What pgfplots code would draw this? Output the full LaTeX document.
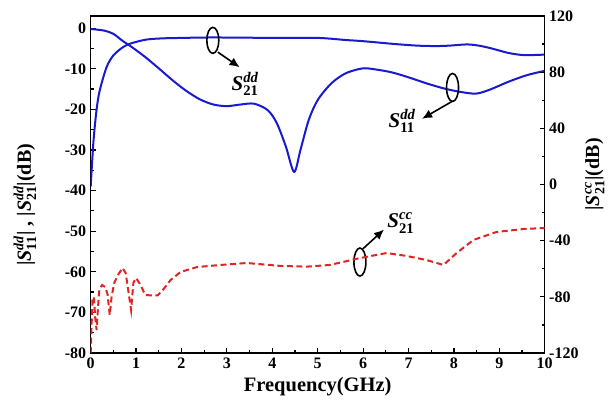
\documentclass[border=0pt]{standalone}
\usepackage{amsmath}
\usepackage{fontspec}
\setmainfont{Liberation Serif}
\usepackage{pgfplots}
\pgfplotsset{compat=1.18}
\usetikzlibrary{arrows.meta}
\definecolor{sblue}{RGB}{25,25,210}
\definecolor{sred}{RGB}{225,35,35}
\newcommand{\Sp}[2]{\textbf{\textit{S}}$^{\text{\bfseries\itshape #1}}_{\text{\bfseries #2}}$}

\pgfplotsset{
  common/.style={
    width=454pt, height=337pt, scale only axis,
    at={(0,0)}, anchor=south west,
    xmin=0, xmax=10,
    tick align=inside,
    major tick length=5pt, minor tick length=3pt,
    every tick/.style={black, line width=1.2pt},
    axis line style={line width=1.4pt},
    /pgf/number format/assume math mode=true,
    tick label style={font=\fontsize{16}{18}\selectfont\bfseries},
    label style={font=\fontsize{20}{23}\selectfont\bfseries},
  }
}

\begin{document}
\begin{tikzpicture}
\begin{axis}[common,
  ymin=-80, ymax=3,
  xtick={0,1,...,10}, minor x tick num=1,
  ytick={-80,-70,...,0}, minor y tick num=1,
  xtick pos=bottom, ytick pos=left,
  xlabel={Frequency(GHz)},
  xlabel style={at={(rel axis cs:0.5,0)}, anchor=center, yshift=-34pt, font=\fontsize{20.5}{23}\selectfont\bfseries},
  ylabel={|\Sp{dd}{11}| , |\Sp{dd}{21}|(dB)},
  ylabel style={at={(rel axis cs:-0.145,0.44)}, anchor=center},
  xticklabel style={yshift=-1pt},
  yticklabel style={xshift=-1pt},
]
% S21dd
\addplot[sblue, line width=2pt, smooth, tension=0.5] coordinates {
(0.00,-39) (0.06,-28) (0.13,-20) (0.20,-15.3) (0.35,-9.6) (0.50,-6.7)
(0.72,-4.6) (0.90,-3.7) (1.23,-2.8) (1.60,-2.5) (2.00,-2.4) (2.50,-2.3)
(3.00,-2.3) (3.50,-2.35) (4.00,-2.4) (4.50,-2.4) (5.00,-2.4) (5.30,-2.6)
(5.60,-2.9) (6.00,-3.2) (6.70,-3.9) (7.20,-4.3) (7.60,-4.4) (7.90,-4.3)
(8.30,-4.0) (8.60,-4.4) (8.90,-5.2) (9.20,-6.1) (9.50,-6.6) (9.80,-6.6)
(10.00,-6.5)
};
% S11dd
\addplot[sblue, line width=2pt, smooth, tension=0.5] coordinates {
(0.00,-0.2) (0.30,-0.6) (0.50,-1.4) (0.70,-3.1) (0.90,-4.6) (1.20,-7.1)
(1.50,-9.9) (1.80,-12.8) (2.10,-15.4) (2.40,-17.5) (2.70,-18.8) (3.00,-19.2)
(3.30,-18.8) (3.60,-18.6) (3.90,-20.2) (4.10,-23.4) (4.30,-29.2) (4.48,-35.4)
(4.62,-30.0) (4.80,-22.7) (5.00,-17.7) (5.30,-13.6) (5.60,-11.2) (5.90,-10.1)
(6.10,-9.9) (6.60,-10.8) (7.00,-12.1) (7.40,-13.6) (7.80,-14.9) (8.20,-15.8)
(8.50,-16.1) (8.80,-15.1) (9.20,-13.2) (9.60,-11.6) (10.00,-10.5)
};
% annotations
\draw[line width=1.6pt] (axis cs:2.69,-3.0) ellipse [x radius=6pt, y radius=13pt];
\draw[line width=1.6pt, -{Latex[length=10pt,width=9pt]}] (axis cs:2.80,-5.9) -- (axis cs:3.28,-9.6);
\node[font=\fontsize{21}{24}\selectfont] at (axis cs:3.40,-13.8) {\Sp{dd}{21}};
\draw[line width=1.6pt] (axis cs:7.97,-14.6) ellipse [x radius=6pt, y radius=14pt];
\draw[line width=1.6pt, -{Latex[length=10pt,width=9pt]}] (axis cs:7.95,-18.1) -- (axis cs:7.30,-22.3);
\node[font=\fontsize{21}{24}\selectfont] at (axis cs:6.86,-22.9) {\Sp{dd}{11}};
\draw[line width=1.6pt] (axis cs:5.93,-57.6) ellipse [x radius=6pt, y radius=14pt];
\draw[line width=1.6pt, -{Latex[length=10pt,width=9pt]}] (axis cs:6.00,-54.3) -- (axis cs:6.46,-49.6);
\node[font=\fontsize{21}{24}\selectfont] at (axis cs:6.83,-48.0) {\Sp{cc}{21}};
\end{axis}
\begin{axis}[common,
  ymin=-120, ymax=120,
  axis x line=none, axis y line*=right,
  ytick={-120,-80,...,120}, minor y tick num=1,
  ylabel={|\Sp{cc}{21}|(dB)},
  ylabel style={at={(rel axis cs:1.11,0.53)}, anchor=center},
  yticklabel style={xshift=1pt},
]
% S21cc
\addplot[sred, line width=2pt, dash pattern=on 6pt off 3.5pt] coordinates {
(0.00,-120) (0.02,-100) (0.04,-82) (0.07,-80) (0.10,-95) (0.13,-103.6)
(0.16,-88) (0.19,-75) (0.25,-71.6) (0.32,-73) (0.37,-78) (0.42,-93)
(0.46,-80) (0.52,-70) (0.60,-64.5) (0.70,-59.5) (0.77,-63) (0.83,-76)
(0.89,-89.4) (0.94,-70) (1.00,-66.6) (1.10,-71.6) (1.20,-78.7) (1.35,-79)
(1.47,-79) (1.57,-76) (1.76,-68) (1.98,-62.3) (2.34,-58.8) (2.86,-57.3)
(3.44,-55.9) (4.18,-58) (4.76,-58.5) (5.27,-57.3) (5.93,-52.4) (6.52,-48.8)
(6.96,-50.9) (7.40,-53.8) (7.77,-57.3) (8.06,-48.8) (8.43,-39.5) (8.94,-33.8)
(9.53,-31.7) (10.00,-31)
};
\end{axis}
\path[use as bounding box] (-90.7pt,-49pt) rectangle (525.3pt,353pt);
\end{tikzpicture}
\end{document}
